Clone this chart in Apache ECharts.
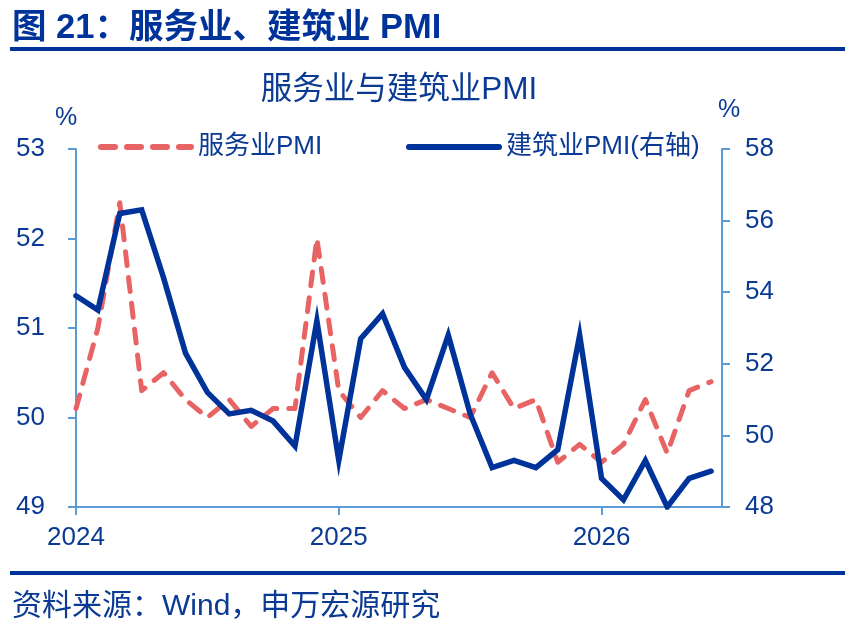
<!DOCTYPE html>
<html>
<head>
<meta charset="utf-8">
<script src="https://cdn.jsdelivr.net/npm/echarts@6/dist/echarts.min.js"></script>
<style>html,body{margin:0;padding:0;background:#fff}#c{width:854px;height:634px}</style>
</head>
<body>
<div id="c"></div>
<script>
// ---- data ----
const months = ['2024-01','2024-02','2024-03','2024-04','2024-05','2024-06','2024-07','2024-08','2024-09','2024-10','2024-11','2024-12',
                '2025-01','2025-02','2025-03','2025-04','2025-05','2025-06','2025-07','2025-08','2025-09','2025-10','2025-11','2025-12',
                '2026-01','2026-02','2026-03','2026-04','2026-05','2026-06'];
const servicesPMI = [50.1, 51.0, 52.4, 50.3, 50.5, 50.2, 50.0, 50.2, 49.9, 50.1, 50.1, 52.0,
                     50.3, 50.0, 50.3, 50.1, 50.2, 50.1, 50.0, 50.5, 50.1, 50.2, 49.5, 49.7,
                     49.5, 49.7, 50.2, 49.6, 50.3, 50.4];
const constructionPMI = [53.9, 53.5, 56.2, 56.3, 54.4, 52.3, 51.2, 50.6, 50.7, 50.4, 49.7, 53.2,
                         49.3, 52.7, 53.4, 51.9, 51.0, 52.8, 50.6, 49.1, 49.3, 49.1, 49.6, 52.8,
                         48.8, 48.2, 49.3, 48.0, 48.8, 49.0];
const yearLabels = ['2024', '2025', '2026'];
const yearTickIdx = [0, 12, 24];

const FONT = "'Liberation Sans', 'Noto Sans CJK SC', sans-serif";
const TXT = '#0a3a94';
const NAVY = '#003399';
const RED = '#e86464';
const AXIS = '#5b9bd5';

const chart = echarts.init(document.getElementById('c'), null, {renderer: 'canvas'});

function txt(text, x, y, size, opts) {
  opts = opts || {};
  return {
    type: 'text', silent: true,
    style: {
      text: text, x: x, y: y,
      fill: opts.fill || TXT,
      font: (opts.bold ? 'bold ' : '') + size + 'px ' + FONT,
      align: opts.align || 'left', textAlign: opts.align || 'left',
      verticalAlign: 'middle', textVerticalAlign: 'middle'
    }
  };
}

function legendCfg(name, left) {
  return {
    data: [name], left: left, top: 134, padding: 0, itemWidth: 90, itemHeight: 14, itemGap: 0,
    textStyle: {fontSize: 26, color: TXT, fontFamily: FONT, padding: [0, 0, 0, 2]},
    lineStyle: {width: 6}, itemStyle: {opacity: 0}, selectedMode: false
  };
}

const option = {
  animation: false,
  backgroundColor: '#fff',
  textStyle: {fontFamily: FONT},
  grid: {left: 76, right: 132, top: 149, bottom: 127, containLabel: false, outerBoundsMode: 'none'},
  legend: [legendCfg('服务业PMI', 98), legendCfg('建筑业PMI(右轴)', 406)],
  xAxis: {
    type: 'value', min: 0, max: 29.5,
    splitLine: {show: false},
    axisLine: {show: true, lineStyle: {color: AXIS, width: 2}},
    axisTick: {show: true, customValues: yearTickIdx, length: 8, lineStyle: {color: AXIS, width: 2}},
    axisLabel: {customValues: yearTickIdx, fontSize: 26, color: TXT, fontFamily: FONT, margin: 18,
                formatter: function (v) { return yearLabels[Math.round(v / 12)]; }}
  },
  yAxis: [
    {type: 'value', min: 49, max: 53, interval: 1, position: 'left',
     splitLine: {show: false},
     axisLine: {show: true, lineStyle: {color: AXIS, width: 2}},
     axisTick: {show: true, length: 8, lineStyle: {color: AXIS, width: 2}},
     axisLabel: {fontSize: 26, color: TXT, fontFamily: FONT, margin: 31}},
    {type: 'value', min: 48, max: 58, interval: 2, position: 'right',
     splitLine: {show: false},
     axisLine: {show: true, lineStyle: {color: AXIS, width: 2}},
     axisTick: {show: true, length: 8, lineStyle: {color: AXIS, width: 2}},
     axisLabel: {fontSize: 26, color: TXT, fontFamily: FONT, margin: 23}}
  ],
  series: [
    {name: '服务业PMI', type: 'line', yAxisIndex: 0, symbol: 'none', showSymbol: false,
     data: months.map(function (m, i) { return [i, servicesPMI[i]]; }),
     lineStyle: {color: RED, width: 5, type: [14, 12], cap: 'round', join: 'round'},
     itemStyle: {color: RED}, z: 2},
    {name: '建筑业PMI(右轴)', type: 'line', yAxisIndex: 1, symbol: 'none', showSymbol: false,
     data: months.map(function (m, i) { return [i, constructionPMI[i]]; }),
     lineStyle: {color: NAVY, width: 5.5, cap: 'round', join: 'miter'},
     itemStyle: {color: NAVY}, z: 3}
  ],
  graphic: [
    txt('图 21：服务业、建筑业 PMI', 12, 28, 34.5, {bold: true, fill: NAVY}),
    {type: 'rect', silent: true, shape: {x: 10, y: 47, width: 835, height: 4}, style: {fill: NAVY}},
    txt('服务业与建筑业PMI', 399, 90, 31.5, {align: 'center'}),
    txt('%', 66, 118, 25, {align: 'center'}),
    txt('%', 729, 110, 25, {align: 'center'}),
    {type: 'rect', silent: true, shape: {x: 10, y: 571, width: 835, height: 4}, style: {fill: NAVY}},
    txt('资料来源：Wind，申万宏源研究', 12, 607, 30)
  ]
};
chart.setOption(option);
</script>
</body>
</html>
